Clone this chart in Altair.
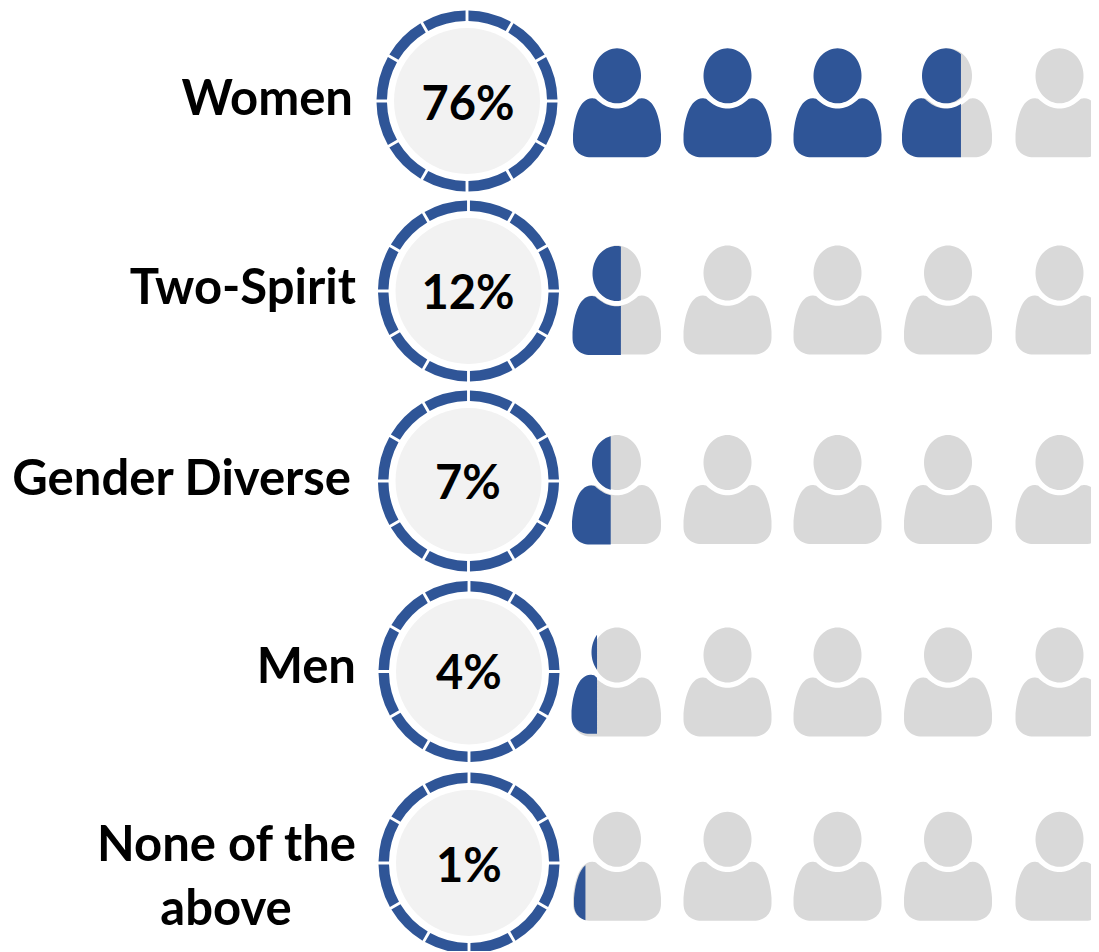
import math
import altair as alt
import pandas as pd

# ---- values ----
categories = ["Women", "Two-Spirit", "Gender Diverse", "Men", "None of the above"]
percents = ["76%", "12%", "7%", "4%", "1%"]
full_people = [3, 0, 0, 0, 0]          # wholly coloured people in each row
part_fill = [0.67, 0.55, 0.44, 0.29, 0.13]  # drawn share of the next person's width
label_lines = [
    ("Women", 353, 115, "right"),
    ("Two-Spirit", 356, 304, "right"),
    ("Gender Diverse", 351, 495, "right"),
    ("Men", 356, 683, "right"),
    ("None of the", 356, 861, "right"),
    ("above", 226, 925, "center"),
]
ring_cx = [467, 468.5, 468.5, 469, 469]
ring_cy = [101, 291, 481, 671.5, 863]
pct_x = [468, 468, 468, 469, 469]
pct_y = [120, 309, 499, 689, 882]
person_x = [617, 727.5, 837.5, 948, 1059.5]
person_cy = [102.8, 300, 489.5, 682, 866.3]
blue_dx = [-2, -0.5, -1, -1.5, 1]
blue_dy = [0, 0.5, 0.5, -2.7, 0.5]

BLUE = "#2F5597"
GRAY = "#D9D9D9"
DISC = "#F2F2F2"
FONT = "Lato"
BOX = 120.0          # symbol box, px
HW, HH = 44.0, 54.5  # half width and half height of a person, px
PW, PH = 1083, 943   # plot area


def bez(p0, c1, c2, p1, n=14):
    out = []
    for i in range(1, n + 1):
        t = i / n
        u = 1 - t
        out.append((u**3 * p0[0] + 3 * u * u * t * c1[0] + 3 * u * t * t * c2[0] + t**3 * p1[0],
                    u**3 * p0[1] + 3 * u * u * t * c1[1] + 3 * u * t * t * c2[1] + t**3 * p1[1]))
    return out


def body_outline():
    right = [(0, 60.3)]
    right += bez((0, 60.3), (9, 60.3), (15, 56), (21, 50.8))
    right += bez((21, 50.8), (22, 50.3), (23.5, 50), (25, 50), 5)
    right += bez((25, 50), (36, 50), (42.5, 66), (HW, 86))
    right += [(HW, 92)]
    right += bez((HW, 92), (HW, 103), (36, 109), (26, 109))
    right += [(0, 109)]
    left = [(-x, y) for x, y in reversed(right[1:-1])]
    return right + left


def head_outline(n=72):
    return [(24 * math.cos(2 * math.pi * i / n), 27.5 + 27.5 * math.sin(2 * math.pi * i / n)) for i in range(n)]


def clip_x(poly, cut):
    out = []
    for i, a in enumerate(poly):
        b = poly[(i + 1) % len(poly)]
        ina, inb = a[0] <= cut, b[0] <= cut
        if ina:
            out.append(a)
        if ina != inb:
            t = (cut - a[0]) / (b[0] - a[0])
            out.append((cut, a[1] + t * (b[1] - a[1])))
    return out


def to_path(polys):
    parts = []
    for poly in polys:
        if len(poly) < 3:
            continue
        pts = [((x) / (BOX / 2), (y - HH) / (BOX / 2)) for x, y in poly]
        parts.append("M" + " L".join(f"{x:.4f} {y:.4f}" for x, y in pts) + " Z")
    return " ".join(parts)


BODY = body_outline()
HEAD = head_outline()
shape_paths = {"whole": to_path([HEAD, BODY])}
for cat, f in zip(categories, part_fill):
    cut = -HW + f * 2 * HW
    shape_paths[cat] = to_path([clip_x(HEAD, cut), clip_x(BODY, cut)])

gray_rows, blue_rows = [], []
for r, cat in enumerate(categories):
    for i, px in enumerate(person_x):
        if i < full_people[r]:
            blue_rows.append(dict(x=px, y=person_cy[r], key="whole"))
        else:
            gray_rows.append(dict(x=px, y=person_cy[r], key="whole"))
        if i == full_people[r]:
            blue_rows.append(dict(x=px + blue_dx[r], y=person_cy[r] + blue_dy[r], key=cat))

ring_rows = [dict(x=ring_cx[r], y=ring_cy[r], start=s * 30, end=(s + 1) * 30)
             for r in range(5) for s in range(12)]

xs = alt.Scale(domain=[8, 8 + PW], range=[0, PW], nice=False, zero=False)
ys = alt.Scale(domain=[8, 8 + PH], range=[0, PH], nice=False, zero=False)
X = alt.X("x:Q", scale=xs, axis=None)
Y = alt.Y("y:Q", scale=ys, axis=None)
shape_scale = alt.Scale(domain=list(shape_paths), range=list(shape_paths.values()))
SHAPE = alt.Shape("key:N", scale=shape_scale, legend=None)

disc = alt.Chart(pd.DataFrame({"x": ring_cx, "y": ring_cy})).mark_circle(
    size=(2 * 73)**2, color=DISC, opacity=1, clip=True).encode(x=X, y=Y)

ring = alt.Chart(pd.DataFrame(ring_rows)).mark_arc(
    radius=90.5, radius2=80, padAngle=0.024, color=BLUE, clip=True).encode(
    x=X, y=Y,
    theta=alt.Theta("start:Q", scale=alt.Scale(domain=[0, 360], range=[0, 2 * math.pi])),
    theta2="end:Q")

gray = alt.Chart(pd.DataFrame(gray_rows)).mark_point(
    filled=True, size=BOX**2, color=GRAY, opacity=1, strokeWidth=0, clip=True).encode(x=X, y=Y, shape=SHAPE)
blue = alt.Chart(pd.DataFrame(blue_rows)).mark_point(
    filled=True, size=BOX**2, color=BLUE, opacity=1, strokeWidth=0, clip=True).encode(x=X, y=Y, shape=SHAPE)

lab = pd.DataFrame(label_lines, columns=["t", "x", "y", "al"])
lab_r = alt.Chart(lab[lab.al == "right"]).mark_text(
    font=FONT, fontWeight="bold", fontSize=49, align="right", baseline="alphabetic", color="black"
).encode(x=X, y=Y, text="t:N")
lab_c = alt.Chart(lab[lab.al == "center"]).mark_text(
    font=FONT, fontWeight="bold", fontSize=49, align="center", baseline="alphabetic", color="black"
).encode(x=X, y=Y, text="t:N")
pct = alt.Chart(pd.DataFrame({"t": percents, "x": pct_x, "y": pct_y})).mark_text(
    font=FONT, fontWeight="bold", fontSize=47, align="center", baseline="alphabetic", color="black"
).encode(x=X, y=Y, text="t:N")

chart = alt.layer(disc, ring, gray, blue, lab_r, lab_c, pct).properties(
    width=PW, height=PH, padding=0, autosize=alt.AutoSizeParams(type="none"),
    background="white",
).configure_view(stroke=None)

chart.save("out.html", embed_options={"renderer": "svg", "actions": False})
